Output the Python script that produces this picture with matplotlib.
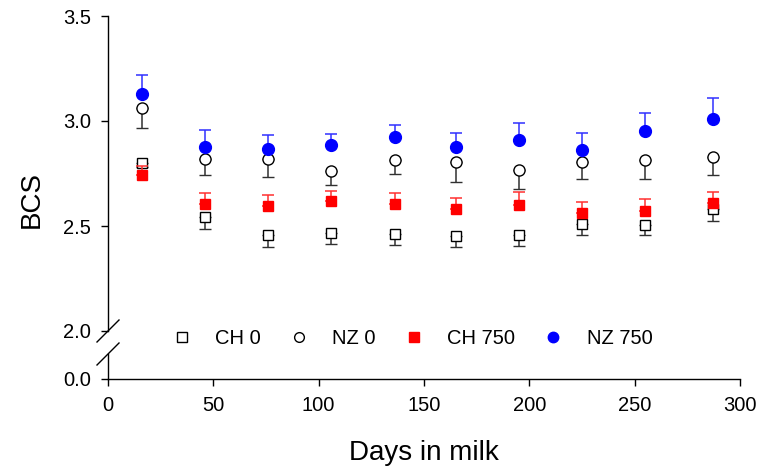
import numpy as np
import matplotlib
matplotlib.use("Agg")
import matplotlib.pyplot as plt
from matplotlib.lines import Line2D

plt.rcParams['font.family'] = ['Liberation Sans', 'DejaVu Sans']

# days in milk
dim = [16, 46, 76, 106, 136, 165, 195, 225, 255, 287]

# body condition score, means and one-sided errors
ch0 = [2.80, 2.542, 2.457, 2.465, 2.46, 2.454, 2.457, 2.508, 2.505, 2.58]
ch0_err = [0.02, 0.058, 0.056, 0.052, 0.049, 0.054, 0.053, 0.049, 0.048, 0.058]
nz0 = [3.064, 2.82, 2.82, 2.764, 2.814, 2.806, 2.766, 2.806, 2.814, 2.827]
nz0_err = [0.097, 0.075, 0.086, 0.067, 0.066, 0.097, 0.091, 0.082, 0.091, 0.085]
ch750 = [2.741, 2.605, 2.597, 2.621, 2.605, 2.58, 2.602, 2.561, 2.572, 2.608]
ch750_err = [0.047, 0.05, 0.051, 0.048, 0.053, 0.052, 0.06, 0.054, 0.056, 0.052]
nz750 = [3.128, 2.874, 2.868, 2.884, 2.922, 2.874, 2.908, 2.86, 2.954, 3.008]
nz750_err = [0.092, 0.084, 0.067, 0.055, 0.059, 0.07, 0.081, 0.084, 0.083, 0.103]

labels = ['CH 0', 'NZ 0', 'CH 750', 'NZ 750']
xticks = [0, 50, 100, 150, 200, 250, 300]

W, H = 773, 467
fig = plt.figure(figsize=(W / 100, H / 100), dpi=100)

def fx(px):
    return px / W

def fy(py):
    return 1 - py / H

ax = fig.add_axes([fx(108), fy(331), fx(740) - fx(108), fy(16) - fy(331)])
axb = fig.add_axes([fx(108), fy(379), fx(740) - fx(108), fy(354) - fy(379)])

zero = [0] * len(dim)
# lower-side error bars for the control groups, upper-side for the 750 groups
ax.errorbar(dim, ch0, yerr=[ch0_err, zero], fmt='s', color='black', mfc='white',
            mec='black', ms=6.5, mew=1.0, ecolor='#303030', elinewidth=1.1,
            capsize=4, capthick=1.1, clip_on=False, zorder=3)
ax.errorbar(dim, nz0, yerr=[nz0_err, zero], fmt='o', color='black', mfc='white',
            mec='black', ms=8, mew=1.0, ecolor='#303030', elinewidth=1.1,
            capsize=4, capthick=1.1, clip_on=False, zorder=3)
ax.errorbar(dim, ch750, yerr=[zero, ch750_err], fmt='s', color='red', mfc='red',
            mec='red', ms=7.5, ecolor='#ff3030', elinewidth=1.1,
            capsize=4, capthick=1.1, clip_on=False, zorder=4)
ax.errorbar(dim, nz750, yerr=[zero, nz750_err], fmt='o', color='blue', mfc='blue',
            mec='blue', ms=8.5, ecolor='#3030ff', elinewidth=1.1,
            capsize=4, capthick=1.1, clip_on=False, zorder=4)

ax.set_xlim(0, 300)
ax.set_ylim(2.0, 3.5)
ax.set_yticks([2.0, 2.5, 3.0, 3.5])
ax.set_yticklabels(['2.0', '2.5', '3.0', '3.5'])
ax.set_xticks([])
for s in ['top', 'right', 'bottom']:
    ax.spines[s].set_visible(False)
ax.patch.set_alpha(0)

axb.set_xlim(0, 300)
axb.set_ylim(0, 1)
axb.set_yticks([0])
axb.set_yticklabels(['0.0'])
axb.set_xticks(xticks)
axb.set_xticklabels([str(t) for t in xticks])
for s in ['top', 'right']:
    axb.spines[s].set_visible(False)
axb.patch.set_alpha(0)

for a in (ax, axb):
    a.tick_params(direction='out', length=5, width=1.0, labelsize=14.5, pad=7)
    for s in a.spines.values():
        s.set_linewidth(1.0)

# break marks on the y axis
for y0 in (331, 354):
    fig.add_artist(Line2D([fx(97), fx(119)], [fy(y0 + 11), fy(y0 - 11)],
                          color='black', lw=1.0))

fig.text(fx(32), fy(199), 'BCS', rotation=90, ha='center', va='center', fontsize=20)
fig.text(fx(424), fy(460), 'Days in milk', ha='center', va='baseline', fontsize=20)

handles = [
    Line2D([], [], ls='none', marker='s', mfc='white', mec='black', ms=6.5, mew=1.0),
    Line2D([], [], ls='none', marker='o', mfc='white', mec='black', ms=7, mew=1.0),
    Line2D([], [], ls='none', marker='s', mfc='red', mec='red', ms=6.5),
    Line2D([], [], ls='none', marker='o', mfc='blue', mec='blue', ms=7.5),
]
fig.legend(handles, labels, loc='center', bbox_to_anchor=(fx(412), fy(339)),
           ncol=4, frameon=False, fontsize=14.5, handlelength=1.0,
           handletextpad=1.15, columnspacing=1.4)

fig.savefig('out.png', dpi=100)
